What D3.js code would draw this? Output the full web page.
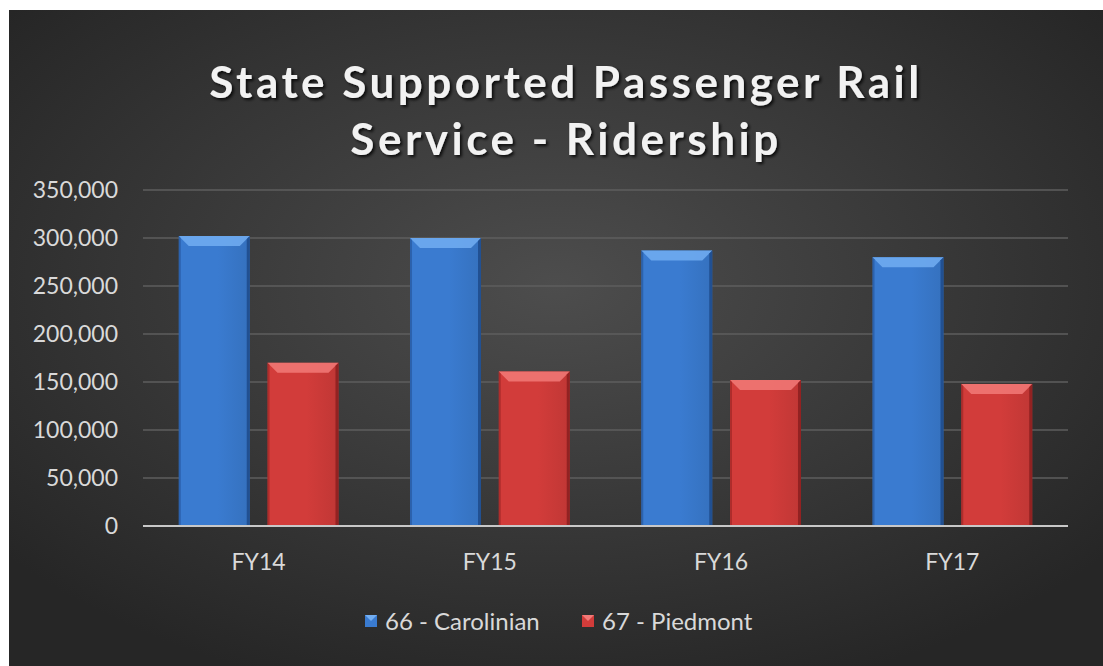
<!DOCTYPE html>
<html><head><meta charset="utf-8">
<script src="https://cdn.jsdelivr.net/npm/d3@7"></script>
<style>html,body{margin:0;padding:0;background:#fff;}svg{display:block;}</style>
</head><body>
<svg id="c" width="1103" height="666"></svg>
<script>
const categories = ["FY14", "FY15", "FY16", "FY17"];
const carolinian = [302000, 300000, 287000, 280000];
const piedmont = [170000, 161000, 152000, 148000];
const seriesNames = ["66 - Carolinian", "67 - Piedmont"];
const yTicks = [0, 50000, 100000, 150000, 200000, 250000, 300000, 350000];
const titleLines = ["State Supported Passenger Rail", "Service - Ridership"];

const svg = d3.select("#c");
const W = 1103, H = 666;
const font = "Lato, 'Open Sans', sans-serif";
const defs = svg.append("defs");

const bg = defs.append("radialGradient").attr("id","bg").attr("cx","50%").attr("cy","42%").attr("r","65%");
bg.append("stop").attr("offset","0%").attr("stop-color","#4d4d4d");
bg.append("stop").attr("offset","100%").attr("stop-color","#262626");

const colors = [{main:"#3a7bd0", light:"#72aef2", dark:"#1d4a8a"},{main:"#d23c3a", light:"#f27a78", dark:"#8a1e1e"}];
colors.forEach((c,i)=>{
  const g = defs.append("linearGradient").attr("id","bar"+i).attr("x1","0").attr("x2","1").attr("y1","0").attr("y2","0");
  g.append("stop").attr("offset","0%").attr("stop-color",c.main);
  g.append("stop").attr("offset","55%").attr("stop-color",c.main);
  g.append("stop").attr("offset","100%").attr("stop-color",d3.color(c.main).darker(0.25));
});
const f = defs.append("filter").attr("id","ts").attr("x","-10%").attr("y","-20%").attr("width","120%").attr("height","150%");
f.append("feDropShadow").attr("dx",2).attr("dy",2).attr("stdDeviation",1.5).attr("flood-color","#000").attr("flood-opacity",0.8);

svg.append("rect").attr("x",9).attr("y",10).attr("width",W-9).attr("height",H-10).attr("fill","url(#bg)");

const m = {l:143, r:1068, t:190, b:526};
const x0 = d3.scaleBand().domain(categories).range([m.l, m.r]).paddingInner(0).paddingOuter(0);
const y = d3.scaleLinear().domain([0,350000]).range([m.b, m.t]);

// gridlines
svg.append("g").selectAll("line").data(yTicks.filter(d=>d>0)).join("line")
  .attr("x1",m.l).attr("x2",m.r).attr("y1",d=>y(d)).attr("y2",d=>y(d))
  .attr("stroke","#5e5e5e").attr("stroke-width",1.3);

// y labels
svg.append("g").selectAll("text").data(yTicks).join("text")
  .attr("x",m.l-25).attr("y",d=>y(d)+8).attr("text-anchor","end")
  .attr("font-family",font).attr("font-size",23).attr("fill","#d9d9d9")
  .text(d=>d3.format(",")(d));

// bars
const bw = x0.bandwidth()*0.307;
const gap = bw*0.25;
const series = [carolinian, piedmont];
series.forEach((vals,si)=>{
  const g = svg.append("g");
  vals.forEach((v,i)=>{
    const cx = x0(categories[i]) + x0.bandwidth()/2;
    const bx = si===0 ? cx - gap/2 - bw : cx + gap/2;
    const top = y(v), bot = y(0);
    const c = colors[si];
    g.append("rect").attr("x",bx).attr("y",top).attr("width",bw).attr("height",bot-top).attr("fill","url(#bar"+si+")");
    const b = 10;
    g.append("polygon").attr("points",[[bx,top],[bx+bw,top],[bx+bw-b,top+b],[bx+b,top+b]].join(" ")).attr("fill",c.light).attr("opacity",0.85);
    g.append("polygon").attr("points",[[bx+bw,top],[bx+bw,bot],[bx+bw-3,bot],[bx+bw-3,top+3]].join(" ")).attr("fill",c.dark).attr("opacity",0.85);
    g.append("polygon").attr("points",[[bx,top],[bx,bot],[bx+2,bot],[bx+2,top+2]].join(" ")).attr("fill",c.dark).attr("opacity",0.5);
  });
});

// axis line
svg.append("line").attr("x1",m.l).attr("x2",m.r).attr("y1",y(0)).attr("y2",y(0)).attr("stroke","#c8c8c8").attr("stroke-width",2);

// x labels
svg.append("g").selectAll("text").data(categories).join("text")
  .attr("x",d=>x0(d)+x0.bandwidth()/2).attr("y",y(0)+44).attr("text-anchor","middle")
  .attr("font-family",font).attr("font-size",23).attr("fill","#d9d9d9").text(d=>d);

// title
svg.append("g").selectAll("text").data(titleLines).join("text")
  .attr("x",566).attr("y",(d,i)=>98+i*57).attr("text-anchor","middle")
  .attr("font-family",font).attr("font-weight","bold").attr("font-size",44).attr("letter-spacing",3.5)
  .attr("fill","#f2f2f2").attr("filter","url(#ts)").text(d=>d);

// legend
const legX = [365, 582];
seriesNames.forEach((n,i)=>{
  const c = colors[i];
  const lg = svg.append("g");
  lg.append("rect").attr("x",legX[i]).attr("y",615).attr("width",12).attr("height",12).attr("fill",c.main);
  lg.append("polygon").attr("points",[[legX[i],615],[legX[i]+12,615],[legX[i]+6,621]].join(" ")).attr("fill",c.light);
  lg.append("text").attr("x",legX[i]+20).attr("y",630).attr("font-family",font).attr("font-size",24).attr("fill","#d9d9d9").text(n);
});
</script>
</body></html>
